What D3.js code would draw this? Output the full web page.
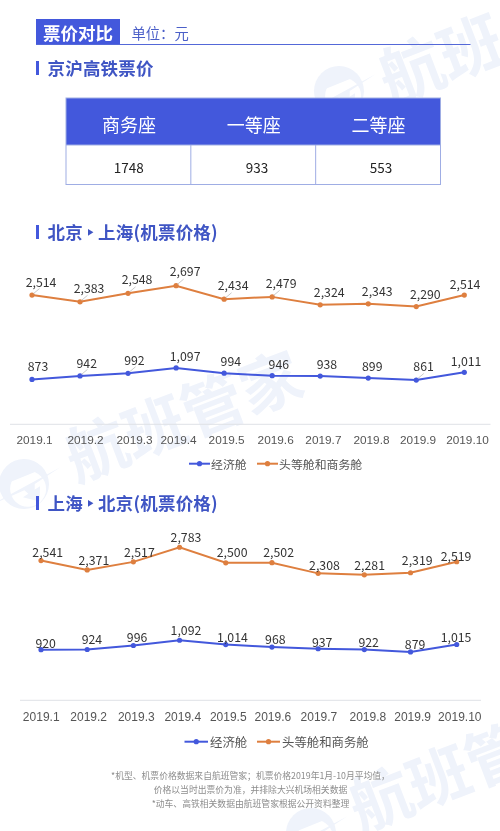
<!DOCTYPE html>
<html><head><meta charset="utf-8">
<script src="https://cdnjs.cloudflare.com/ajax/libs/d3/7.8.5/d3.min.js"></script>
<style>html,body{margin:0;padding:0;background:#fff}svg{display:block;font-family:"Noto Sans CJK SC","Noto Sans",sans-serif;filter:blur(0.3px)}</style>
</head><body><svg id="c" width="500" height="831"></svg>
<script>
// ---- data ----
const months = ["2019.1","2019.2","2019.3","2019.4","2019.5","2019.6","2019.7","2019.8","2019.9","2019.10"];
const bjshEconomy = [873,942,992,1097,994,946,938,899,861,1011];
const bjshPremium = [2514,2383,2548,2697,2434,2479,2324,2343,2290,2514];
const shbjEconomy = [920,924,996,1092,1014,968,937,922,879,1015];
const shbjPremium = [2541,2371,2517,2783,2500,2502,2308,2281,2319,2519];
const seatClasses = ["商务座","一等座","二等座"];
const seatPrices = [1748,933,553];
const seriesNames = ["经济舱","头等舱和商务舱"];
const notes = ["*机型、机票价格数据来自航班管家\uFF1B机票价格2019年1月-10月平均值\uFF0C","价格以当时出票价为准\uFF0C并排除大兴机场相关数据","*动车、高铁相关数据由航班管家根据公开资料整理"];
const unitLabel = "单位\uFF1A元";

// ---- layout tweaks (label nudges, px) ----
const nudge1 = {
  ecoX:[6,6.7,6.4,9,6.7,6.7,6.7,4,7.3,1.7], ecoY:[-13,-13,-13.6,-12,-12.7,-12,-12,-12,-14,-11],
  preX:[9,9,9,9,9,9,9,9,9,0.7], preY:[-13,-14,-14.7,-14.3,-14,-14,-13,-13,-13,-11],
  tick:[2,5,6,2,2,3,2.7,2.7,1.3,2.7]
};
const nudge2 = {
  ecoX:[4.7,4.7,3.7,6.4,6.7,3.4,4,4.3,4.6,-0.7], ecoY:[-7,-10,-9,-10,-8,-8,-7,-8,-8,-7],
  preX:[6.7,6.7,6,6.4,6.4,6.7,6.3,5.3,6.7,-0.7], preY:[-9,-10,-10,-10,-11,-11,-8,-10,-13,-6],
  tick:[-0.3,1,2.4,2.7,2,0.4,0.3,3,1.6,2.6]
};
const valueNudge=[0.3,3.7,3];
const BLUE="#4358dc", ORANGE="#de7f3f", WM="#eff3fb";
const svg=d3.select("#c");
svg.append("rect").attr("width",500).attr("height",831).attr("fill","#fff");

// ---- watermarks ----
function watermark(x,y,s,size){
  svg.append("text").attr("transform",`translate(${x},${y}) rotate(-21)`)
    .attr("font-size",size).attr("font-weight",700).attr("fill",WM).text(s);
}
function logo(cx,cy){
  const g=svg.append("g").attr("transform",`translate(${cx},${cy}) rotate(-22)`);
  g.append("circle").attr("r",25).attr("fill",WM);
  g.append("circle").attr("r",18).attr("cx",2).attr("cy",6).attr("fill","#fff");
  g.append("path").attr("d","M-18,-7 C-10,-22 12,-22 20,-7 Z").attr("fill",WM);
  g.append("path").attr("d","M-38,7 L40,-2 L10,4 L4,18 L-2,6 Z").attr("fill",WM);
  g.append("path").attr("d","M-6,12 L14,8 L8,22 Z").attr("fill",WM);
}
watermark(390,104,"航班",64);
logo(339,91);
watermark(76,482,"航班管家",62);
logo(24,484);
watermark(360,832,"航班管",62);
logo(311,833);

// ---- header ----
svg.append("rect").attr("x",36).attr("y",19).attr("width",84).attr("height",25.5).attr("fill",BLUE);
svg.append("line").attr("x1",36).attr("x2",470.5).attr("y1",44.5).attr("y2",44.5).attr("stroke","#5468d8").attr("stroke-width",1);
svg.append("text").attr("x",43).attr("y",32).attr("dominant-baseline","central").attr("font-size",17.5).attr("font-weight",700).attr("fill","#fff").text("票价对比");
svg.append("text").attr("x",131.5).attr("y",32).attr("dominant-baseline","central").attr("font-size",14.3).attr("fill","#4b5fc8").text(unitLabel);

function sectionTitle(y,s){
  svg.append("rect").attr("x",36).attr("y",y-7).attr("width",3).attr("height",14).attr("fill",BLUE);
  svg.append("text").attr("x",47.5).attr("y",y-1).attr("dominant-baseline","central").attr("font-size",17.5).attr("font-weight",700).attr("letter-spacing",0.2).attr("fill","#3f55c4").text(s);
}
sectionTitle(68,"京沪高铁票价");
sectionTitle(232,"北京 ‣ 上海(机票价格)");
sectionTitle(503,"上海 ‣ 北京(机票价格)");

// ---- table ----
const colX=d3.scaleBand().domain(seatClasses).range([66,440.5]);
const tbl=svg.append("g");
tbl.append("rect").attr("x",66).attr("y",145).attr("width",374.5).attr("height",39.5).attr("fill","#fff");
tbl.append("rect").attr("x",66).attr("y",98).attr("width",374.5).attr("height",47).attr("fill",BLUE);
tbl.append("rect").attr("x",66).attr("y",98).attr("width",374.5).attr("height",86.5).attr("fill","none").attr("stroke","#9fade4").attr("stroke-width",1);
tbl.append("line").attr("x1",66).attr("x2",440.5).attr("y1",145).attr("y2",145).attr("stroke","#9fade4");
seatClasses.forEach((c,i)=>{
  const x=colX(c);
  if(i>0) tbl.append("line").attr("x1",x).attr("x2",x).attr("y1",145).attr("y2",184.5).attr("stroke","#9fade4");
  tbl.append("text").attr("x",x+colX.bandwidth()/2+0.5).attr("y",124).attr("text-anchor","middle").attr("dominant-baseline","central").attr("font-size",18).attr("fill","#fff").text(c);
  tbl.append("text").attr("x",x+colX.bandwidth()/2+valueNudge[i]).attr("y",166.5).attr("text-anchor","middle").attr("dominant-baseline","central").attr("font-size",13.5).attr("fill","#222").text(d3.format("d")(seatPrices[i]));
});

// ---- charts ----
const fmt=d3.format(",");
function chart(o){
  const g=svg.append("g");
  const x=d3.scalePoint().domain(months).range(o.xr);
  const y=d3.scaleLinear().domain([0,3000]).range([o.base,o.base-3000*o.k]);
  const ax=g.append("g").attr("transform",`translate(0,${o.base})`)
    .call(d3.axisBottom(x).tickSize(0).tickPadding(o.pad));
  ax.select(".domain").remove();
  g.append("line").attr("x1",o.ar[0]).attr("x2",o.ar[1]).attr("y1",o.base).attr("y2",o.base).attr("stroke","#dfe1e6");
  ax.selectAll("text").attr("font-family","inherit").attr("font-size",o.tickSize).attr("fill","#555")
    .attr("dx",(d,i)=>o.n.tick[i]);
  const line=d3.line().x((d,i)=>x(months[i])).y(d=>y(d));
  [[o.pre,ORANGE,o.n.preX,o.n.preY,o.leadPre],[o.eco,BLUE,o.n.ecoX,o.n.ecoY,o.leadEco]].forEach(([vals,col,dx,dy,lead])=>{
    g.append("path").attr("d",line(vals)).attr("fill","none").attr("stroke",col).attr("stroke-width",2);
    g.selectAll(null).data(vals).enter().append("circle")
      .attr("cx",(d,i)=>x(months[i])).attr("cy",d=>y(d)).attr("r",2.6).attr("fill",col);
    lead.forEach(i=>{
      g.append("line").attr("x1",x(months[i])+1.5).attr("y1",y(vals[i])-1.5)
        .attr("x2",x(months[i])+7.5).attr("y2",y(vals[i])-6.5).attr("stroke","#bdbdbd").attr("stroke-width",0.8);
    });
    g.selectAll(null).data(vals).enter().append("text")
      .attr("x",(d,i)=>x(months[i])+dx[i]).attr("y",(d,i)=>y(d)+dy[i])
      .attr("text-anchor","middle").attr("dominant-baseline","central")
      .attr("font-size",12.3).attr("fill","#333").text(d=>fmt(d));
  });
  // legend
  const ly=o.legend.y;
  [[o.legend.x1,BLUE,0],[o.legend.x2,ORANGE,1]].forEach(([lx,col,i])=>{
    g.append("line").attr("x1",lx[0]).attr("x2",lx[1]).attr("y1",ly).attr("y2",ly).attr("stroke",col).attr("stroke-width",2);
    g.append("circle").attr("cx",(lx[0]+lx[1])/2).attr("cy",ly).attr("r",2.6).attr("fill",col);
    g.append("text").attr("x",lx[1]+o.legend.gap).attr("y",ly).attr("dominant-baseline","central")
      .attr("font-size",o.legend.size).attr("fill","#555").text(seriesNames[i]);
  });
}
chart({eco:bjshEconomy,pre:bjshPremium,xr:[32,464.3],base:424.3,k:0.0514,ar:[10,490.5],pad:11,tickSize:11.8,
  n:nudge1,leadPre:[0,1,2,3,4,5],leadEco:[1,2,8],
  legend:{y:463.7,x1:[189,210],x2:[257,278],gap:1,size:11.9}});
chart({eco:shbjEconomy,pre:shbjPremium,xr:[41,456.7],base:700.3,k:0.055,ar:[20,481],pad:12,tickSize:12,
  n:nudge2,leadPre:[],leadEco:[],
  legend:{y:741.7,x1:[184.5,208],x2:[257,280],gap:2,size:12.4}});

// ---- footnotes ----
svg.selectAll(null).data(notes).enter().append("text")
  .attr("x",250.5).attr("y",(d,i)=>775+i*14.2).attr("text-anchor","middle").attr("dominant-baseline","central")
  .attr("font-size",8.8).attr("fill","#8d8d8d").text(d=>d);
</script></body></html>
